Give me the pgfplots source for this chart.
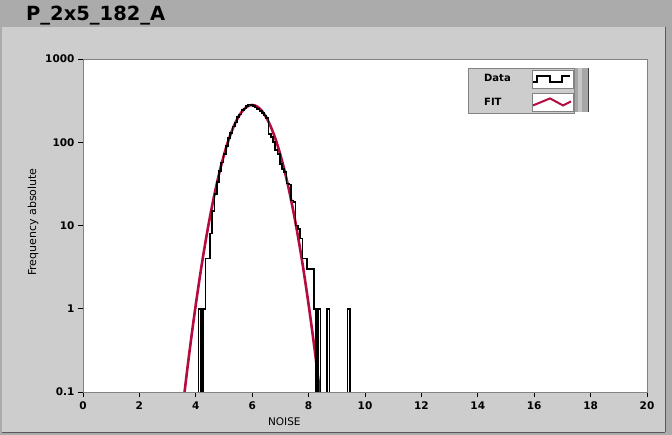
\documentclass[border=0pt]{standalone}
\usepackage{pgfplots}
\pgfplotsset{compat=1.18}
\usepackage{pgfplotstable}
\usepackage{fontspec}
\setmainfont{DejaVu Sans}
\definecolor{titlebar}{RGB}{171,171,171}
\definecolor{panel}{RGB}{205,205,205}
\definecolor{fitred}{RGB}{180,12,62}
\definecolor{axgray}{RGB}{130,130,130}

% histogram: left bin edge, count (0.001 = empty bin, below the axis)
\pgfplotstableread{
x y
4.02 0.001
4.10 1
4.18 0.001
4.26 1
4.34 4
4.42 4
4.50 8
4.58 15
4.66 24
4.74 33
4.82 45
4.90 57
4.98 72
5.06 90
5.14 112
5.22 128
5.30 155
5.38 172
5.46 200
5.54 215
5.62 242
5.70 255
5.78 272
5.86 285
5.94 282
6.02 270
6.10 262
6.18 250
6.26 238
6.34 225
6.42 210
6.50 195
6.58 125
6.66 115
6.74 100
6.82 80
6.90 72
6.98 55
7.06 48
7.14 44
7.22 32
7.30 31
7.38 20
7.46 19
7.54 10
7.62 9
7.70 7
7.78 4
7.86 4
7.94 3
8.02 3
8.10 3
8.18 1
8.26 0.001
8.34 1
8.42 0.001
8.66 1
8.74 0.001
9.38 1
9.46 0.001
9.54 0.001
}\datatable

% fitted curve
\pgfplotstableread{
x y
3.5 0.0505
3.6 0.0992
3.7 0.1895
3.8 0.352
3.9 0.638
4.0 1.122
4.1 1.923
4.2 3.21
4.3 5.20
4.4 8.19
4.5 12.56
4.6 18.74
4.7 27.19
4.8 38.4
4.9 52.8
5.0 70.4
5.1 91.6
5.2 115.8
5.3 142.4
5.4 170.4
5.5 198.3
5.6 224.5
5.7 247.3
5.8 265.0
5.9 276.2
6.0 280.0
6.1 276.2
6.2 265.0
6.3 247.3
6.4 224.5
6.5 198.3
6.6 170.4
6.7 142.4
6.8 115.8
6.9 91.6
7.0 70.4
7.1 52.8
7.2 38.4
7.3 27.19
7.4 18.74
7.5 12.56
7.6 8.19
7.7 5.20
7.8 3.21
7.9 1.923
8.0 1.122
8.1 0.638
8.2 0.352
8.3 0.1895
8.4 0.0992
8.5 0.0505
}\fittable

\begin{document}
\begin{tikzpicture}[x=1pt,y=1pt]
\useasboundingbox (0,0) rectangle (672,435);
\fill[titlebar] (0,0) rectangle (672,435);
\fill[panel] (2,3) rectangle (665,408);
\draw[gray!70!black, line width=0.8pt] (665,3) -- (665,408);
\draw[gray!70!black, line width=0.8pt] (2,3) -- (665,3);
\node[anchor=base west, inner sep=0pt, font=\bfseries\fontsize{19.5}{22}\selectfont] at (26,414) {P\_2x5\_182\_A};

\begin{axis}[
  at={(83pt,43pt)}, anchor=south west,
  scale only axis, width=564pt, height=333pt,
  xmin=0, xmax=20, ymode=log, ymin=0.1, ymax=1000,
  axis background/.style={fill=white},
  axis line style={axgray, line width=0.6pt},
  xtick={0,2,...,20},
  ytick={0.1,1,10,100,1000},
  yticklabels={0.1,1,10,100,1000},
  minor tick num=0, yminorticks=false,
  tick align=outside, tick pos=left, major tick length=5pt,
  tick style={black, line width=0.8pt},
  /pgf/number format/assume math mode=true,
  tick label style={font=\bfseries\fontsize{10.5}{12}\selectfont},
  xticklabel style={yshift=-1pt},
  every axis x label/.style={at={(axis description cs:0.357,0)}, anchor=center, yshift=-30pt, font=\fontsize{10.5}{12}\selectfont},
  every axis y label/.style={at={(axis description cs:-0.0887,0.51)}, rotate=90, anchor=center, font=\fontsize{11}{13}\selectfont},
  xlabel={NOISE},
  ylabel={Frequency absolute},
  legend plot pos=right,
  legend style={at={(axis description cs:0.6826,0.973)}, anchor=north west,
    draw=axgray, fill=panel, inner xsep=1pt, inner ysep=1.5pt, row sep=5pt, column sep=19pt,
    font=\bfseries\fontsize{10}{12}\selectfont, cells={anchor=west}},
]
\addplot[fitred, line width=2.6pt, smooth, forget plot] table[x=x,y=y] {\fittable};
\addplot[black, line width=1.7pt, const plot mark left,
  legend image code/.code={
    \draw[fill=white, draw=axgray, line width=0.5pt] (0pt,-9pt) rectangle (41pt,9pt);
    \draw[black, line width=1.4pt] (1pt,-3pt) -- (5pt,-3pt) -- (5pt,3pt) -- (18pt,3pt) -- (18pt,-3pt) -- (30pt,-3pt) -- (30pt,3pt) -- (38pt,3pt);
  }] table[x=x,y=y] {\datatable};
\addlegendentry{\hspace{13pt}Data}
\addlegendimage{fitred, line width=2pt,
  legend image code/.code={
    \draw[fill=white, draw=axgray, line width=0.5pt] (0pt,-9pt) rectangle (41pt,9pt);
    \draw[fitred, line width=2pt] (1pt,-3pt) -- (18pt,4pt) -- (31pt,-3pt) -- (39pt,1pt);
  }}
\addlegendentry{\hspace{13pt}FIT}
\end{axis}
\fill[gray!70] (575,323) rectangle (588,367);
\fill[gray!45] (578,323) rectangle (582,367);
\draw[gray!50!black, line width=0.6pt] (588,323) -- (588,367);
\end{tikzpicture}
\end{document}
